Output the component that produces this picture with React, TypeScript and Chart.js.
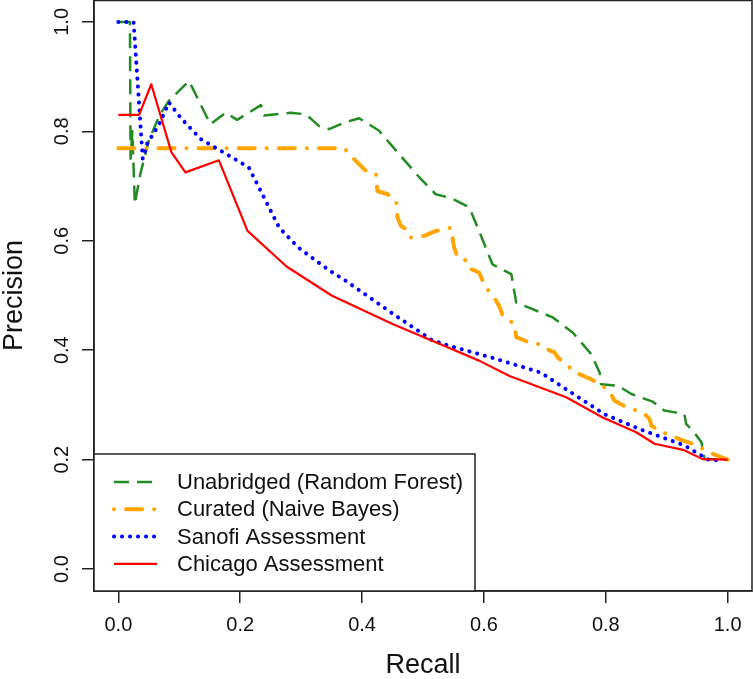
import React, { useEffect, useRef } from 'react';
import { Chart, registerables } from 'chart.js';

Chart.register(...registerables);

const tickValues = [0, 0.2, 0.4, 0.6, 0.8, 1.0];
const seriesLabels = [
  'Unabridged (Random Forest)',
  'Curated (Naive Bayes)',
  'Sanofi Assessment',
  'Chicago Assessment',
];

const unabridgedRecall = [0, 0.019, 0.020, 0.023, 0.027, 0.036, 0.05, 0.067, 0.083, 0.116, 0.151, 0.176, 0.195, 0.234, 0.239, 0.283, 0.308, 0.329, 0.346, 0.371, 0.395, 0.428, 0.461, 0.494, 0.521, 0.546, 0.576, 0.592, 0.614, 0.645, 0.653, 0.68, 0.713, 0.746, 0.776, 0.79, 0.792, 0.82, 0.842, 0.877, 0.896, 0.916, 0.929, 0.932, 0.943, 0.957, 0.962, 1.0];
const unabridgedPrecision = [1.0, 1.0, 0.75, 0.80, 0.667, 0.722, 0.783, 0.828, 0.856, 0.892, 0.813, 0.834, 0.821, 0.848, 0.829, 0.834, 0.831, 0.81, 0.804, 0.816, 0.824, 0.801, 0.758, 0.716, 0.685, 0.678, 0.661, 0.618, 0.557, 0.539, 0.487, 0.475, 0.46, 0.432, 0.393, 0.359, 0.338, 0.335, 0.32, 0.306, 0.29, 0.286, 0.283, 0.265, 0.253, 0.232, 0.201, 0.2];

const curatedRecall = [0, 0.371, 0.379, 0.395, 0.406, 0.423, 0.425, 0.442, 0.456, 0.458, 0.464, 0.477, 0.480, 0.502, 0.521, 0.546, 0.551, 0.557, 0.573, 0.579, 0.592, 0.603, 0.617, 0.625, 0.631, 0.65, 0.653, 0.675, 0.691, 0.699, 0.716, 0.721, 0.74, 0.751, 0.776, 0.79, 0.806, 0.814, 0.834, 0.85, 0.864, 0.872, 0.875, 0.888, 0.905, 0.927, 0.949, 0.97, 0.99, 1.0];
const curatedPrecision = [0.769, 0.769, 0.758, 0.740, 0.728, 0.722, 0.691, 0.685, 0.673, 0.643, 0.627, 0.618, 0.606, 0.609, 0.618, 0.624, 0.588, 0.569, 0.563, 0.548, 0.542, 0.515, 0.496, 0.481, 0.463, 0.448, 0.424, 0.414, 0.411, 0.404, 0.396, 0.387, 0.369, 0.359, 0.347, 0.338, 0.326, 0.308, 0.296, 0.29, 0.283, 0.274, 0.262, 0.253, 0.244, 0.235, 0.226, 0.213, 0.204, 0.2];

const sanofiRecall = [0, 0.025, 0.04, 0.047, 0.067, 0.083, 0.102, 0.135, 0.187, 0.214, 0.236, 0.264, 0.295, 0.346, 0.373, 0.45, 0.514, 0.543, 0.589, 0.62, 0.694, 0.718, 0.798, 0.855, 0.929, 0.97, 0.985];
const sanofiPrecision = [1.0, 1.0, 0.75, 0.777, 0.813, 0.853, 0.825, 0.786, 0.752, 0.734, 0.686, 0.624, 0.588, 0.546, 0.527, 0.467, 0.419, 0.408, 0.394, 0.384, 0.359, 0.341, 0.283, 0.256, 0.226, 0.199, 0.199];

const chicagoRecall = [0, 0.034, 0.054, 0.087, 0.110, 0.165, 0.212, 0.276, 0.35, 0.45, 0.516, 0.592, 0.642, 0.735, 0.795, 0.85, 0.88, 0.927, 0.959, 1.0];
const chicagoPrecision = [0.83, 0.83, 0.886, 0.762, 0.725, 0.747, 0.618, 0.553, 0.5, 0.448, 0.417, 0.381, 0.353, 0.314, 0.277, 0.25, 0.229, 0.218, 0.201, 0.2];

const toPoints = (xs: number[], ys: number[]) => xs.map((x, i) => ({ x, y: ys[i] }));

const FONT = '"Liberation Sans", Arial, Helvetica, sans-serif';
const AXIS_COLOR = '#222';

const framePlugin = {
  id: 'rFrame',
  afterDraw(chart: any) {
    const { ctx, chartArea: a } = chart;
    ctx.save();
    ctx.strokeStyle = AXIS_COLOR;
    ctx.lineWidth = 1.5;
    ctx.setLineDash([]);
    ctx.strokeRect(a.left, a.top + 0.5, a.right - a.left, a.bottom - a.top - 0.5);

    // legend box (bottom-left, inside plot)
    const lx = a.left;
    const ly = 454;
    const lw = 381;
    const lh = a.bottom - ly;
    ctx.fillStyle = '#fff';
    ctx.fillRect(lx, ly, lw, lh);
    ctx.strokeRect(lx, ly, lw, lh);

    chart.data.datasets.forEach((ds: any, i: number) => {
      const y = ly + 28 + i * 27.3;
      ctx.save();
      ctx.strokeStyle = ds.borderColor;
      ctx.lineWidth = ds.borderWidth;
      ctx.setLineDash(ds.borderDash || []);
      ctx.lineDashOffset = ds.legendDashOffset || 0;
      ctx.lineCap = ds.borderCapStyle || 'butt';
      ctx.beginPath();
      ctx.moveTo(lx + 20, y);
      ctx.lineTo(lx + 63, y);
      ctx.stroke();
      ctx.restore();
      ctx.fillStyle = '#111';
      ctx.font = `22px ${FONT}`;
      ctx.textBaseline = 'middle';
      ctx.textAlign = 'left';
      ctx.fillText(ds.label, lx + 83, y + 1);
    });
    ctx.restore();
  },
};

export default function App() {
  const canvasRef = useRef<HTMLCanvasElement | null>(null);

  useEffect(() => {
    document.body.style.margin = '0';
    const canvas = canvasRef.current;
    if (!canvas) return;

    const tickCfg = (extra: any) => ({
      color: '#111',
      font: { family: FONT, size: 20 },
      autoSkip: false,
      callback: (v: any) => Number(v).toFixed(1),
      ...extra,
    });
    const gridCfg = {
      display: true,
      drawOnChartArea: false,
      drawTicks: true,
      tickLength: 12,
      color: AXIS_COLOR,
      lineWidth: 1.5,
    };
    const setTicks = (s: any) => {
      s.ticks = tickValues.map((v) => ({ value: v }));
    };

    const chart = new Chart(canvas, {
      type: 'line',
      data: {
        datasets: [
          {
            label: seriesLabels[0],
            data: toPoints(unabridgedRecall, unabridgedPrecision),
            borderColor: '#228B22',
            borderWidth: 2.5,
            borderDash: [15, 8],
            borderCapStyle: 'butt',
            order: 4,
          },
          {
            label: seriesLabels[1],
            data: toPoints(curatedRecall, curatedPrecision),
            borderColor: '#FFA500',
            borderWidth: 4,
            borderDash: [16, 12, 0.1, 12],
            borderCapStyle: 'round',
            legendDashOffset: 28,
            order: 3,
          },
          {
            label: seriesLabels[2],
            data: toPoints(sanofiRecall, sanofiPrecision),
            borderColor: '#0000FF',
            borderWidth: 4,
            borderDash: [0.1, 7.9],
            borderCapStyle: 'round',
            order: 2,
          },
          {
            label: seriesLabels[3],
            data: toPoints(chicagoRecall, chicagoPrecision),
            borderColor: '#FF0000',
            borderWidth: 2.2,
            order: 1,
          },
        ] as any,
      },
      options: {
        animation: false,
        responsive: true,
        maintainAspectRatio: false,
        events: [],
        layout: { padding: { top: 0, right: 2, left: 0, bottom: 0 } },
        elements: {
          point: { radius: 0, hoverRadius: 0 },
          line: { tension: 0, borderJoinStyle: 'round', fill: false },
        },
        plugins: {
          legend: { display: false },
          tooltip: { enabled: false },
        },
        scales: {
          x: {
            type: 'linear',
            min: -0.04,
            max: 1.04,
            afterBuildTicks: setTicks,
            afterFit: (s: any) => {
              s.height = 88;
              s.paddingLeft = 0;
              s.paddingRight = 0;
            },
            ticks: tickCfg({ padding: 10, maxRotation: 0, minRotation: 0 }),
            grid: gridCfg,
            border: { display: true, color: AXIS_COLOR, width: 1.5 },
            title: {
              display: true,
              text: 'Recall',
              color: '#111',
              font: { family: FONT, size: 27, lineHeight: 1 },
              padding: { top: 0, bottom: 0 },
            },
          },
          y: {
            type: 'linear',
            min: -0.04,
            max: 1.04,
            afterBuildTicks: setTicks,
            afterFit: (s: any) => {
              s.width = 94;
              s.paddingTop = 0;
              s.paddingBottom = 0;
            },
            ticks: tickCfg({ padding: 6, minRotation: 90, maxRotation: 90, crossAlign: 'center' }),
            grid: gridCfg,
            border: { display: true, color: AXIS_COLOR, width: 1.5 },
            title: {
              display: true,
              text: 'Precision',
              color: '#111',
              font: { family: FONT, size: 27, lineHeight: 1 },
              padding: { top: 1, bottom: 0 },
            },
          },
        },
      } as any,
      plugins: [framePlugin],
    });

    return () => {
      chart.destroy();
    };
  }, []);

  return (
    <div style={{ position: 'absolute', left: 0, top: 0, width: 754, height: 679, background: '#fff' }}>
      <canvas ref={canvasRef} />
    </div>
  );
}
